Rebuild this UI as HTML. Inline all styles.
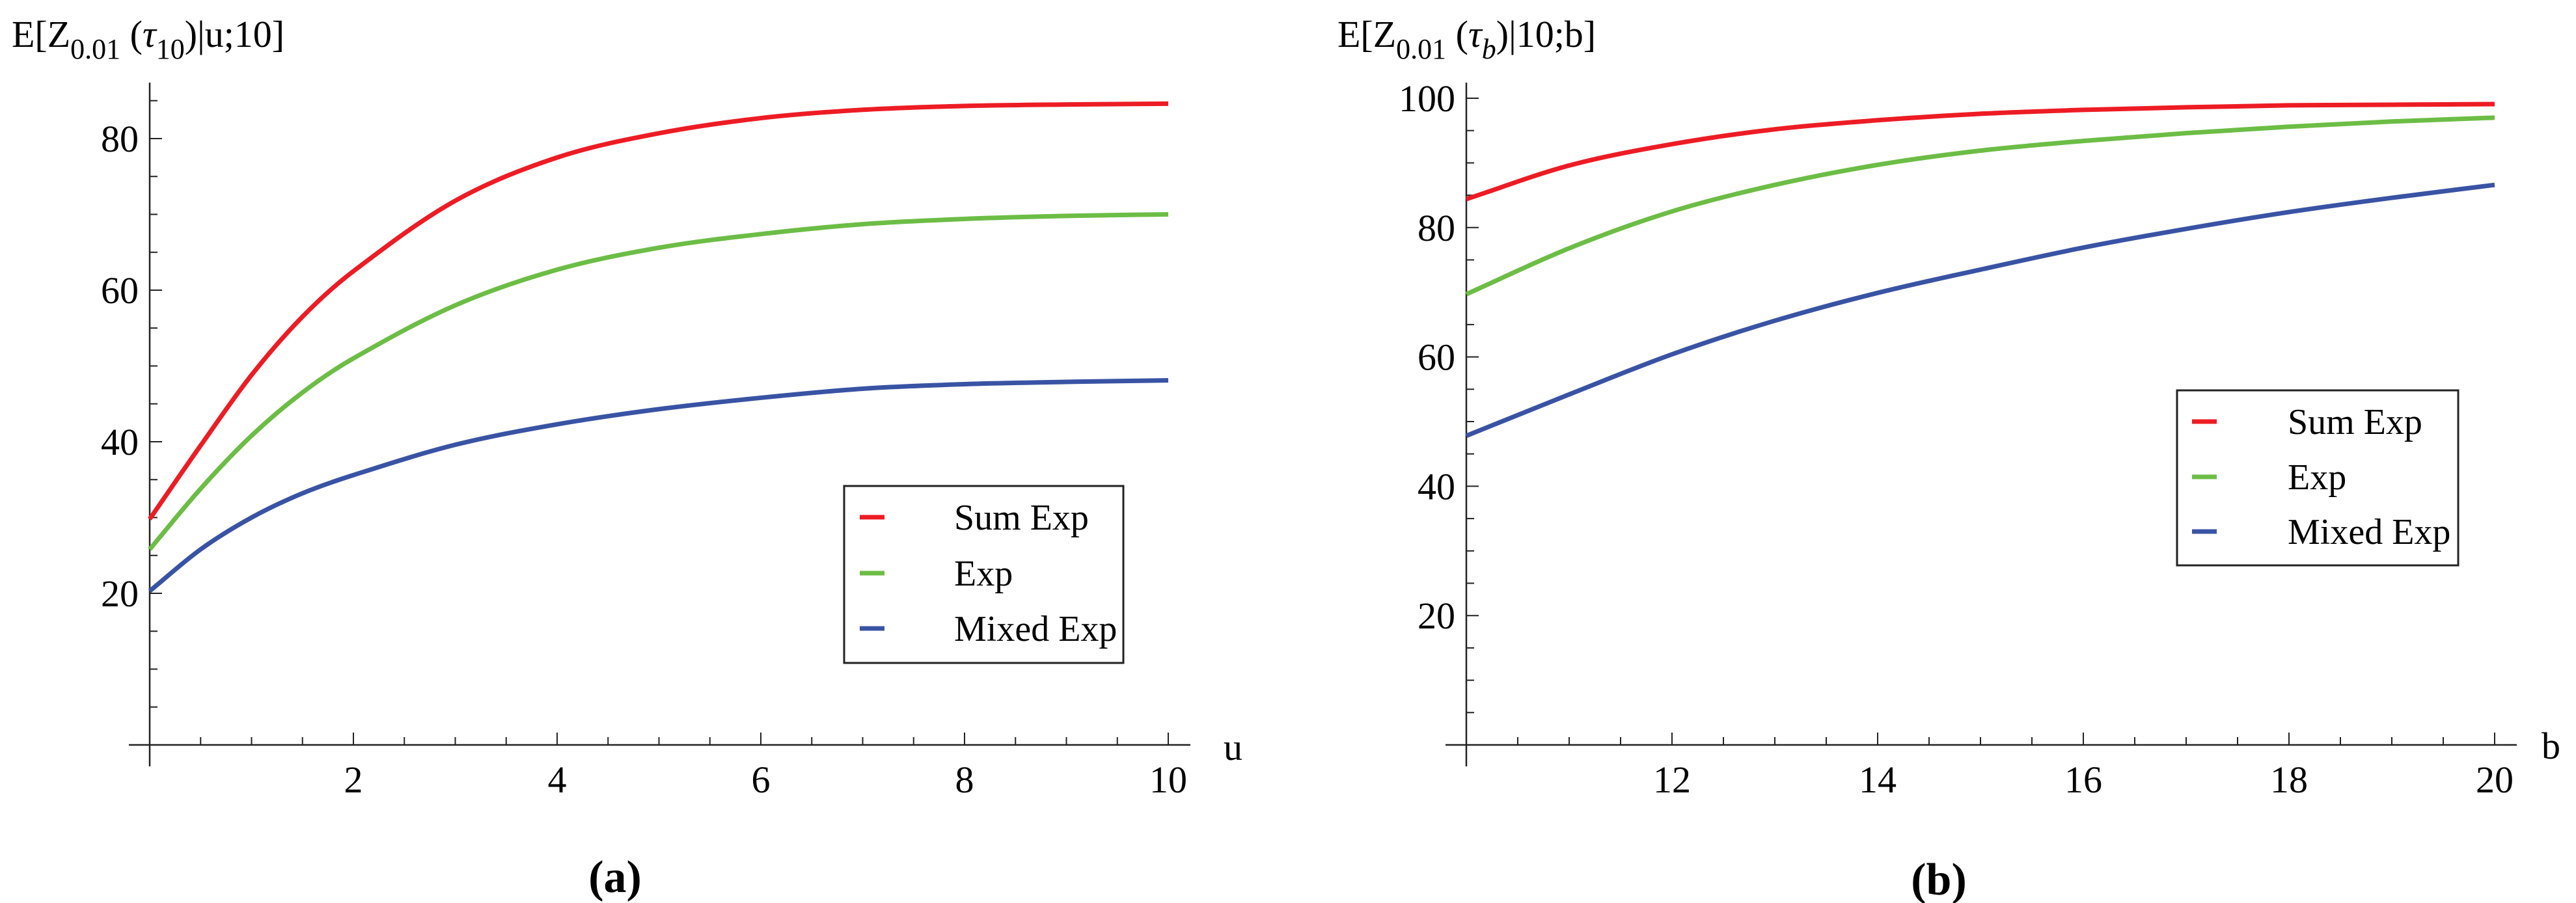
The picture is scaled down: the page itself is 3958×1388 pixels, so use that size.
<!DOCTYPE html>
<html><head><meta charset="utf-8"><style>
html,body{margin:0;padding:0;background:#fff;}
svg{display:block;}
svg text{font-family:"Liberation Serif","DejaVu Serif",serif;}
</style></head><body>
<svg id="fig" width="3958" height="1388" viewBox="0 0 3958 1388" xmlns="http://www.w3.org/2000/svg" font-family="Liberation Serif, DejaVu Serif, serif">
<rect width="3958" height="1388" fill="#fff"/>
<text x="18" y="72" font-size="58" font-family="Liberation Serif, serif">E[Z<tspan font-size="44" dy="18">0.01</tspan><tspan dy="-18"> (</tspan><tspan font-style="italic">τ</tspan><tspan font-size="44" dy="18">10</tspan><tspan dy="-18">)|u;10]</tspan></text>
<text x="2055" y="72" font-size="58" font-family="Liberation Serif, serif">E[Z<tspan font-size="44" dy="18">0.01</tspan><tspan dy="-18"> (</tspan><tspan font-style="italic">τ</tspan><tspan font-size="44" font-style="italic" dy="18">b</tspan><tspan dy="-18">)|10;b]</tspan></text>
<text x="945" y="1371" font-size="70" font-weight="bold" text-anchor="middle" font-family="Liberation Serif, serif">(a)</text>
<text x="2979" y="1375" font-size="70" font-weight="bold" text-anchor="middle" font-family="Liberation Serif, serif">(b)</text>
<text x="1880" y="1168" font-size="58" font-family="Liberation Serif, serif">u</text>
<text x="3905" y="1166" font-size="58" font-family="Liberation Serif, serif">b</text>
</svg>
<script>
// Panel (a) data
const uVals = [0,0.5,1,1.5,2,3,4,5,6,7,8,9,10];
const aSumExp = [29.8,39.5,48.8,56.5,62.5,71.8,77.5,80.7,82.7,83.8,84.3,84.5,84.6];
const aExp = [25.8,33.8,40.8,46.5,51,58,62.7,65.6,67.4,68.7,69.4,69.8,70];
const aMixedExp = [20.3,25.8,30,33.2,35.6,39.6,42.3,44.3,45.8,47,47.6,47.9,48.1];
const aXTicks = [2,4,6,8,10];
const aYTicks = [20,40,60,80];
// Panel (b) data
const bVals = [10,11,12,13,14,15,16,17,18,19,20];
const bSumExp = [84.4,89.6,92.9,95.2,96.6,97.6,98.2,98.6,98.9,99.0,99.1];
const bExp = [69.7,76.8,82.5,86.6,89.7,91.9,93.4,94.6,95.6,96.4,97];
const bMixedExp = [47.8,54.2,60.4,65.6,69.9,73.5,76.9,79.8,82.4,84.6,86.6];
const bXTicks = [12,14,16,18,20];
const bYTicks = [20,40,60,80,100];
const seriesNames = ["Sum Exp","Exp","Mixed Exp"];
const colors = ["#ed1c24","#6cbd45","#3953a4"];

const NS = "http://www.w3.org/2000/svg";
const svg = document.getElementById('fig');
function mk(tag, attrs, parent){const e=document.createElementNS(NS,tag);for(const k in attrs)e.setAttribute(k,attrs[k]);(parent||svg).appendChild(e);return e;}
const FF = 'Liberation Serif, serif';

function panel(cfg){
  const g = mk('g',{});
  
  
  const sx = v => cfg.x0 + (v - cfg.xmin) * cfg.kx;
  const sy = v => cfg.y0 - v * cfg.ky;
  const ya = mk('line',{x1:cfg.x0,y1:127,x2:cfg.x0,y2:1178,stroke:'#222','stroke-width':2.5},g);
  
  
  const xa = mk('line',{x1:cfg.x0-32,y1:cfg.y0,x2:cfg.xEnd,y2:cfg.y0,stroke:'#222','stroke-width':2.5},g);
  
  
  for(let v=5; v<=cfg.ymaxTick; v+=5){
    const major = v%20===0;
    const t = mk('line',{x1:cfg.x0,y1:sy(v),x2:cfg.x0+(major?19:12),y2:sy(v),stroke:'#222','stroke-width':2},g);
    
    
  }
  cfg.yTicks.forEach(v=>{
    const t = mk('text',{x:cfg.labelRight,y:sy(v)+20,'font-size':58,'text-anchor':'end','font-family':FF},g);
    t.textContent = v;
    
    
  });
  for(let v=cfg.xmin+0.5; v<=cfg.xmax+0.001; v+=0.5){
    const major = Math.abs(v-Math.round(v))<1e-6 && Math.round(v)%2===0;
    const t = mk('line',{x1:sx(v),y1:cfg.y0,x2:sx(v),y2:cfg.y0-(major?19:12),stroke:'#222','stroke-width':2},g);
    
    
  }
  cfg.xTicks.forEach(v=>{
    const t = mk('text',{x:sx(v),y:1218,'font-size':58,'text-anchor':'middle','font-family':FF},g);
    t.textContent = v;
    
    
  });
  cfg.series.forEach((ys,i)=>{
    const pts = cfg.xs.map((x,j)=>[sx(x),sy(ys[j])]);
    let d = 'M'+pts[0][0]+','+pts[0][1];
    for(let j=0;j<pts.length-1;j++){
      const p0=pts[Math.max(0,j-1)],p1=pts[j],p2=pts[j+1],p3=pts[Math.min(pts.length-1,j+2)];
      const h=p2[0]-p1[0];
      const m1=(p2[1]-p0[1])/(p2[0]-p0[0]||1), m2=(p3[1]-p1[1])/(p3[0]-p1[0]||1);
      const c1=[p1[0]+h/3,p1[1]+m1*h/3];
      const c2=[p2[0]-h/3,p2[1]-m2*h/3];
      d+=' C'+c1[0]+','+c1[1]+' '+c2[0]+','+c2[1]+' '+p2[0]+','+p2[1];
    }
    const p = mk('path',{d:d,fill:'none',stroke:colors[i],'stroke-width':7},g);
    
    
  });
  const L = cfg.legend;
  const lg = mk('g',{},g);
  
  
  mk('rect',{x:L.x1,y:L.y1,width:L.x2-L.x1,height:L.y2-L.y1,fill:'#fff',stroke:'#222','stroke-width':3},lg);
  seriesNames.forEach((n,i)=>{
    const e = mk('g',{},lg);
    
    
    const cy = L.ys[i];
    mk('rect',{x:L.sw,y:cy-3.5,width:38,height:7,fill:colors[i]},e);
    const t = mk('text',{x:L.tx,y:cy+19,'font-size':56,'font-family':FF},e);
    t.textContent = n;
  });
}

panel({name:'panel-a', x0:230, xmin:0, xmax:10, kx:156.5, y0:1145, ky:11.65, xEnd:1829,
  ymaxTick:85, yTicks:aYTicks, xTicks:aXTicks, labelRight:213, xs:uVals,
  series:[aSumExp,aExp,aMixedExp],
  legend:{x1:1297,x2:1726,y1:747,y2:1019,ys:[795,881,966],sw:1321,tx:1466}});
panel({name:'panel-b', x0:2253, xmin:10, xmax:20, kx:158, y0:1145, ky:9.94, xEnd:3867,
  ymaxTick:100, yTicks:bYTicks, xTicks:bXTicks, labelRight:2236, xs:bVals,
  series:[bSumExp,bExp,bMixedExp],
  legend:{x1:3345,x2:3777,y1:600,y2:869,ys:[648,733,817],sw:3368,tx:3515}});
</script>
</body></html>
